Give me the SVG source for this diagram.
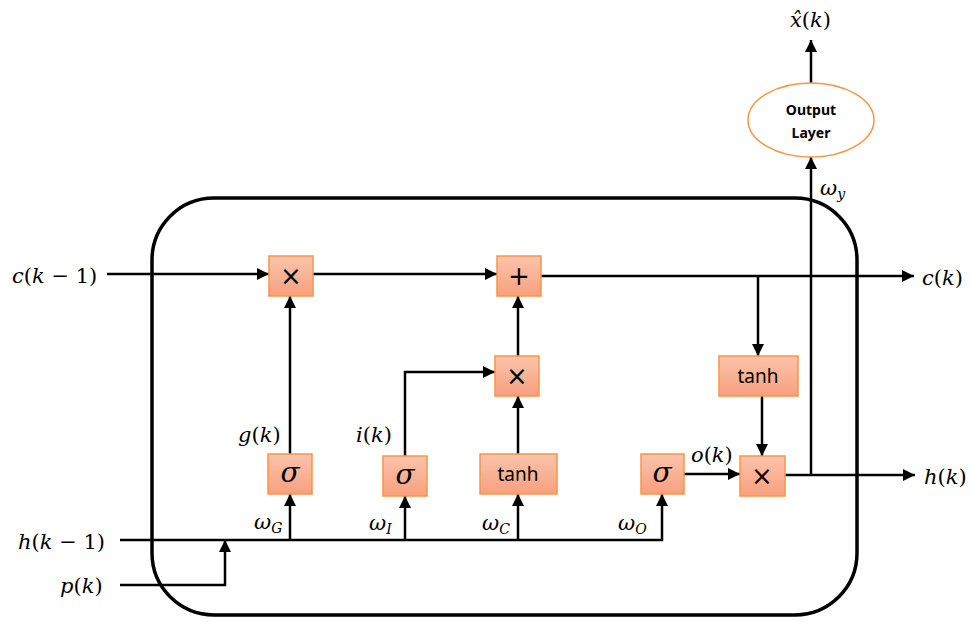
<svg xmlns="http://www.w3.org/2000/svg" width="971" height="622" viewBox="0 0 971 622">
<defs>
<linearGradient id="boxg" x1="0" y1="0" x2="0" y2="1">
<stop offset="0" stop-color="#FBC4AC"/>
<stop offset="1" stop-color="#F7A07E"/>
</linearGradient>
<marker id="ah" viewBox="0 0 12 12" refX="12" refY="6" markerWidth="12" markerHeight="12" markerUnits="userSpaceOnUse" orient="auto">
<path d="M0,0 L12,6 L0,12 Z" fill="#000"/>
</marker>
<style>
.box{fill:url(#boxg);stroke:#F79646;stroke-width:1.5}
.ln{fill:none;stroke:#000;stroke-width:2.5}
.arr{fill:none;stroke:#000;stroke-width:2.5;marker-end:url(#ah)}
.m{font-family:"DejaVu Serif","Liberation Serif",serif;font-size:21px;fill:#000}
.i{font-style:italic}
.op{font-family:"DejaVu Sans","Liberation Sans",sans-serif;font-size:26px;fill:#000;text-anchor:middle}
.sg{font-family:"DejaVu Serif","Liberation Serif",serif;font-style:italic;font-size:28px;fill:#000;text-anchor:middle}
.th{font-family:"Noto Sans","Open Sans",sans-serif;font-size:19px;fill:#000;text-anchor:middle}
.ol{font-family:"Noto Sans","Open Sans",sans-serif;font-size:14px;font-weight:bold;fill:#000;text-anchor:middle}
</style>
</defs>

<rect id="cell" x="152" y="198" width="705" height="417" rx="62" ry="62" fill="none" stroke="#000" stroke-width="3.5"/>

<g id="connectors">
<path class="arr" d="M107,274 H269"/>
<path class="arr" d="M313,274 H497"/>
<path class="arr" d="M541,276 H914"/>
<path class="arr" d="M758,276 V356"/>
<path class="arr" d="M762,396 V456"/>
<path class="arr" d="M684,474 H740"/>
<path class="arr" d="M785,475 H915"/>
<path class="arr" d="M811,475 V157"/>
<path class="arr" d="M811,83 V40"/>
<path class="arr" d="M290,454 V296"/>
<path class="arr" d="M405,456 V372 H495"/>
<path class="arr" d="M518,454 V396"/>
<path class="arr" d="M518,356 V296"/>
<path class="arr" d="M120,540 H662 V494"/>
<path class="arr" d="M290,540 V494"/>
<path class="arr" d="M405,540 V496"/>
<path class="arr" d="M518,540 V494"/>
<path class="arr" d="M120,585 H225 V540"/>
</g>

<g id="mul1"><rect class="box" x="269" y="256" width="44" height="40"/><text class="op" x="291" y="285">×</text></g>
<g id="add"><rect class="box" x="497" y="256" width="44" height="40"/><text class="op" x="519" y="285">+</text></g>
<g id="mul2"><rect class="box" x="495" y="356" width="44" height="40"/><text class="op" x="517" y="385">×</text></g>
<g id="sigG"><rect class="box" x="268" y="454" width="44" height="40"/><text class="sg" x="290" y="482">σ</text></g>
<g id="sigI"><rect class="box" x="383" y="456" width="44" height="40"/><text class="sg" x="405" y="484">σ</text></g>
<g id="tanhC"><rect class="box" x="480" y="454" width="77" height="40"/><text class="th" x="518" y="481">tanh</text></g>
<g id="sigO"><rect class="box" x="641" y="454" width="43" height="40"/><text class="sg" x="662" y="482">σ</text></g>
<g id="tanhH"><rect class="box" x="719" y="356" width="79" height="40"/><text class="th" x="758" y="383">tanh</text></g>
<g id="mul3"><rect class="box" x="740" y="456" width="45" height="40"/><text class="op" x="762" y="485">×</text></g>
<g id="output"><ellipse cx="811" cy="120" rx="63" ry="37" fill="#fff" stroke="#F79646" stroke-width="1.5"/><text class="ol" x="811" y="115">Output</text><text class="ol" x="811" y="138">Layer</text></g>

<g id="labels">
<text class="m" x="12" y="283"><tspan class="i">c</tspan>(<tspan class="i">k</tspan> − 1)</text>
<text class="m" x="922" y="285"><tspan class="i">c</tspan>(<tspan class="i">k</tspan>)</text>
<text class="m" x="924" y="484"><tspan class="i">h</tspan>(<tspan class="i">k</tspan>)</text>
<text class="m" x="18" y="549"><tspan class="i">h</tspan>(<tspan class="i">k</tspan> − 1)</text>
<text class="m" x="60" y="593"><tspan class="i">p</tspan>(<tspan class="i">k</tspan>)</text>
<text class="m" x="238" y="442"><tspan class="i">g</tspan>(<tspan class="i">k</tspan>)</text>
<text class="m" x="356" y="442"><tspan class="i">i</tspan>(<tspan class="i">k</tspan>)</text>
<text class="m" x="691" y="462"><tspan class="i">o</tspan>(<tspan class="i">k</tspan>)</text>
<text class="m" x="790" y="27"><tspan class="i">x̂</tspan>(<tspan class="i">k</tspan>)</text>
<text class="m i" x="254" y="529">ω<tspan font-size="14" dy="4">G</tspan></text>
<text class="m i" x="369" y="530">ω<tspan font-size="14" dy="4">I</tspan></text>
<text class="m i" x="482" y="530">ω<tspan font-size="14" dy="4">C</tspan></text>
<text class="m i" x="618" y="530">ω<tspan font-size="14" dy="4">O</tspan></text>
<text class="m i" x="820" y="195">ω<tspan font-size="14" dy="4">y</tspan></text>
</g>
</svg>
